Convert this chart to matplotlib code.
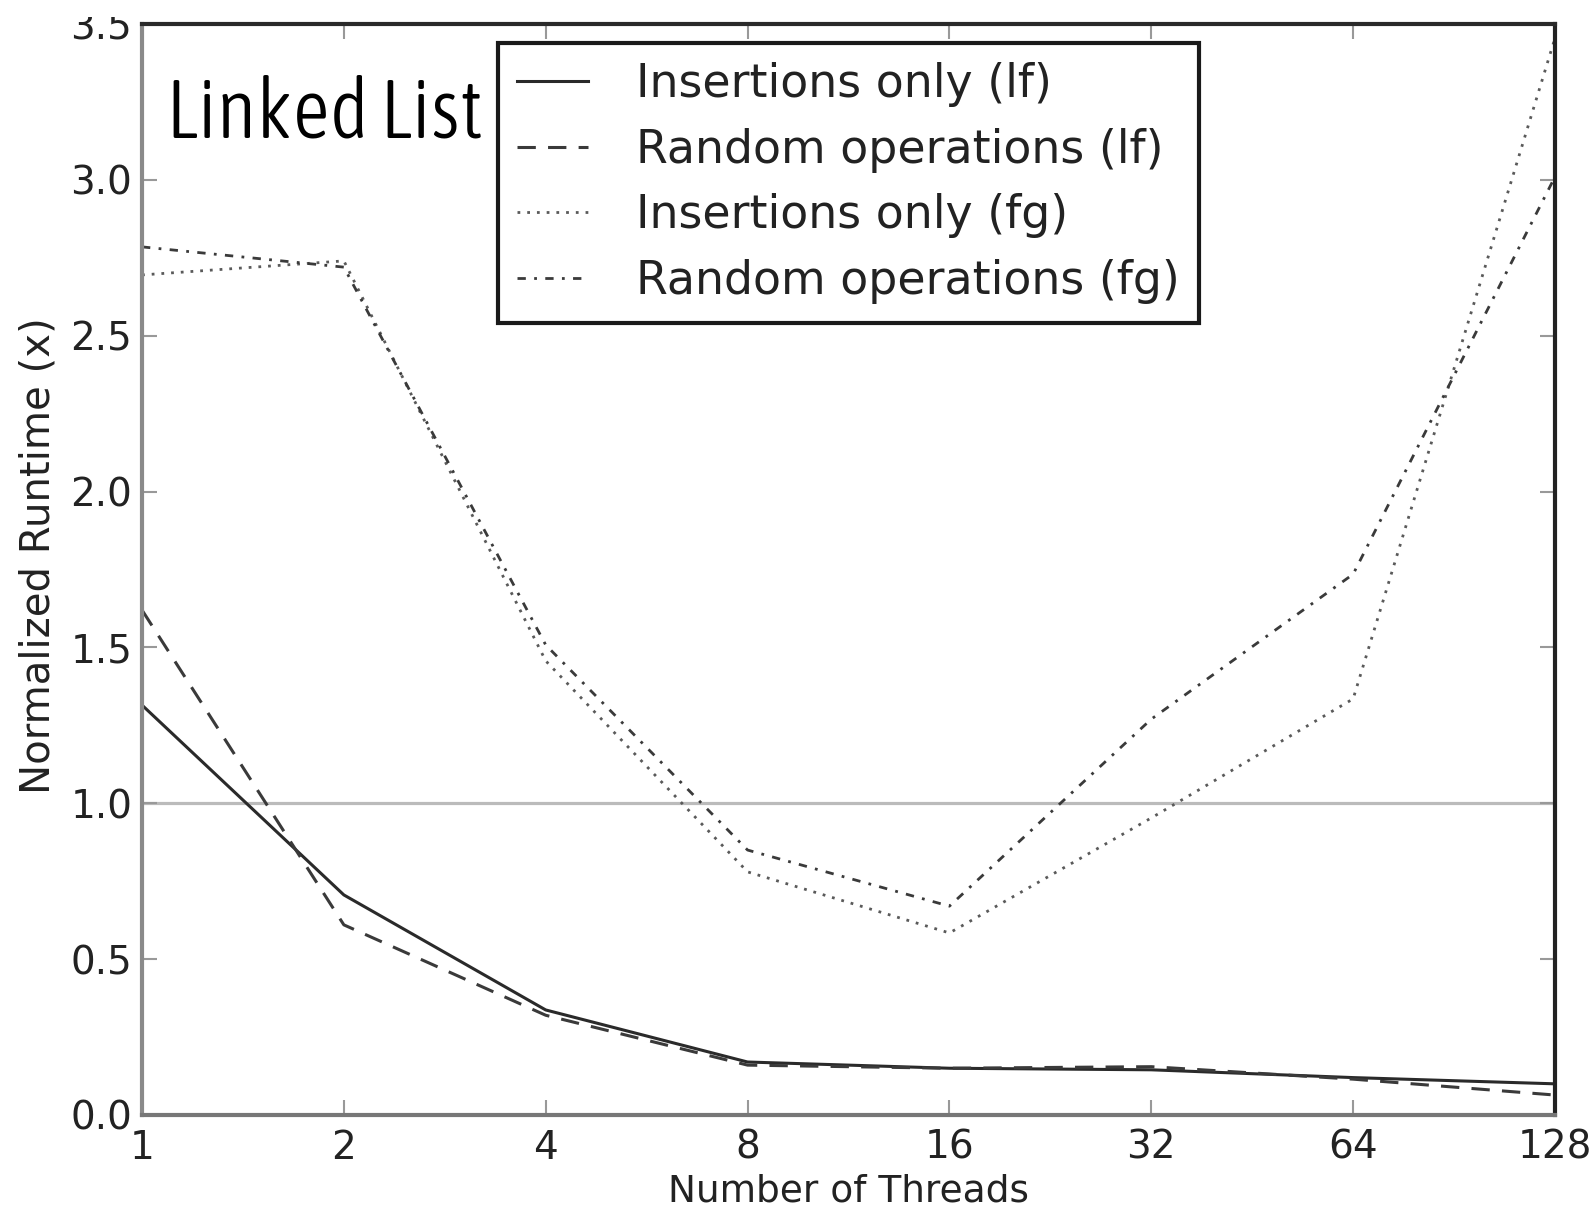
import numpy as np
import matplotlib
matplotlib.use("Agg")
import matplotlib.pyplot as plt
from matplotlib.patches import Rectangle

threads = [1, 2, 4, 8, 16, 32, 64, 128]
ins_lf = [1.315, 0.706, 0.337, 0.17, 0.15, 0.145, 0.12, 0.10]
rand_lf = [1.62, 0.61, 0.32, 0.16, 0.15, 0.155, 0.115, 0.064]
ins_fg = [2.695, 2.74, 1.457, 0.78, 0.584, 0.953, 1.335, 3.455]
rand_fg = [2.785, 2.72, 1.508, 0.85, 0.67, 1.27, 1.735, 3.01]
labels = ["Insertions only (lf)", "Random operations (lf)",
          "Insertions only (fg)", "Random operations (fg)"]
yticks = [0.0, 0.5, 1.0, 1.5, 2.0, 2.5, 3.0, 3.5]

W, H = 1594, 1207
fig = plt.figure(figsize=(W / 100, H / 100), dpi=100, facecolor="white")
ax = fig.add_axes([142 / W, 1 - 1115 / H, (1555 - 142) / W, (1115 - 24) / H])

# reference line at 1.0
ax.axhline(1.0, color="#bbbbbb", lw=2.3, zorder=1)

ax.plot(threads, ins_lf, color="#2a2a2a", lw=2.2, label=labels[0])
ax.plot(threads, rand_lf, color="#3a3a3a", lw=2.2, dashes=(6, 4), label=labels[1])
ax.plot(threads, ins_fg, color="#5a5a5a", lw=2.0, dashes=(1, 2.5), label=labels[2])
ax.plot(threads, rand_fg, color="#3a3a3a", lw=2.0, dashes=(3, 3, 1, 3), label=labels[3])

ax.set_xscale("log", base=2)
ax.set_xlim(1, 128)
ax.set_ylim(0, 3.5)
ax.set_xticks(threads)
ax.set_xticklabels([str(t) for t in threads])
ax.set_yticks(yticks)
ax.set_yticklabels(["%.1f" % v for v in yticks])
ax.minorticks_off()

ax.tick_params(axis="both", direction="in", length=11, width=1.5, color="#999999",
               labelsize=28, labelcolor="#222222", top=True, right=True)
ax.tick_params(axis="x", pad=10)
ax.tick_params(axis="y", pad=7)

ax.spines["left"].set_color("#8a8a8a")
ax.spines["bottom"].set_color("#777777")
ax.spines["top"].set_color("#2a2a2a")
ax.spines["right"].set_color("#222222")
for s in ax.spines.values():
    s.set_linewidth(3)

ax.set_xlabel("Number of Threads", fontsize=27, color="#222222", labelpad=4.5)
ax.set_ylabel("Normalized Runtime (x)", fontsize=29, color="#222222")
ax.yaxis.set_label_coords(-0.0594, 0.513)

ax.text(0.017, 0.8964, "Linked List", transform=ax.transAxes, fontsize=59,
        family=["Asap Condensed", "DejaVu Sans"],
        fontweight=300, ha="left", va="baseline", color="black")

leg = ax.legend(loc="upper left", bbox_to_anchor=(0.252, 0.9826), borderaxespad=0,
                fontsize=33, frameon=True, fancybox=False, framealpha=1,
                handlelength=1.55, handletextpad=1.05, labelspacing=0.45,
                borderpad=0.42)
leg.get_frame().set_edgecolor("#1a1a1a")
leg.get_frame().set_linewidth(3)
for t in leg.get_texts():
    t.set_color("#222222")

# the reference image is cropped along its top edge
fig.patches.append(Rectangle((0, 1 - 17 / H), 1, 17 / H, transform=fig.transFigure,
                             facecolor="white", edgecolor="none", zorder=10))

fig.savefig("out.png", dpi=100, facecolor="white")
